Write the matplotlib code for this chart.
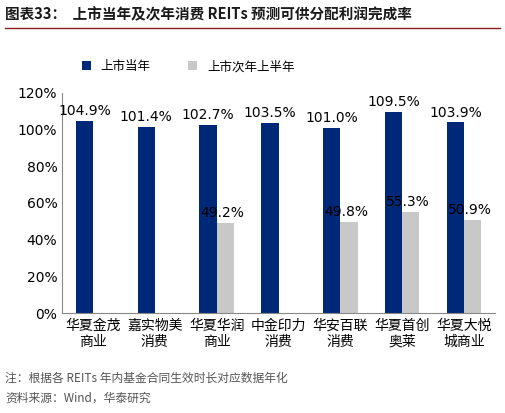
import numpy as np
import matplotlib.pyplot as plt

plt.rcParams['font.family'] = ['Noto Sans CJK SC', 'DejaVu Sans']

categories = ['华夏金茂\n商业', '嘉实物美\n消费', '华夏华润\n商业', '中金印力\n消费',
              '华安百联\n消费', '华夏首创\n奥莱', '华夏大悦\n城商业']
year1 = [104.9, 101.4, 102.7, 103.5, 101.0, 109.5, 103.9]
year2 = [np.nan, np.nan, 49.2, np.nan, 49.8, 55.3, 50.9]
yticks = [0, 20, 40, 60, 80, 100, 120]

fig = plt.figure(figsize=(5.05, 4.13), dpi=100)
ax = fig.add_axes([0.123, 0.242, 0.857, 0.533])

x = np.arange(len(categories))
w = 0.28
ax.bar(x - w / 2, year1, w, color='#002878', label='上市当年')
ax.bar(x + w / 2, year2, w, color='#c8c8c8', label='上市次年上半年')
for i, v in enumerate(year1):
    ax.text(x[i] - w / 2, v + 1.5, f'{v:.1f}%', ha='center', va='bottom', fontsize=10,
            family='DejaVu Sans')
for i, v in enumerate(year2):
    if not np.isnan(v):
        ax.text(x[i] + w / 2 - 0.05, v + 1.5, f'{v:.1f}%', ha='center', va='bottom',
                fontsize=10, family='DejaVu Sans')

ax.set_ylim(0, 120)
ax.set_yticks(yticks)
ax.set_yticklabels([f'{t}%' for t in yticks], fontsize=10, family='DejaVu Sans')
ax.set_xlim(-0.5, len(categories) - 0.5)
ax.set_xticks(x)
ax.set_xticklabels(categories, fontsize=10)
ax.tick_params(axis='x', length=0, pad=4)
ax.tick_params(axis='y', length=0)
for s in ['top', 'right']:
    ax.spines[s].set_visible(False)
ax.spines['left'].set_color('#888888')
ax.spines['bottom'].set_color('#888888')

ax.legend(loc='upper left', bbox_to_anchor=(0.02, 1.2), ncol=2, frameon=False,
          fontsize=9, handlelength=0.7, handleheight=0.7, columnspacing=3)

fig.text(0.01, 0.965, '图表33：  上市当年及次年消费 REITs 预测可供分配利润完成率',
         fontsize=10.5, fontweight='bold', color='#1a1a1a', va='center')
fig.add_artist(plt.Line2D([0.01, 0.99], [0.932, 0.932], color='#8b1a1a', lw=1))
fig.text(0.01, 0.085, '注：根据各 REITs 年内基金合同生效时长对应数据年化',
         fontsize=8.5, color='#555555', va='center')
fig.text(0.01, 0.035, '资料来源：Wind，华泰研究', fontsize=8.5, color='#555555', va='center')

fig.savefig('out.png', dpi=100)
